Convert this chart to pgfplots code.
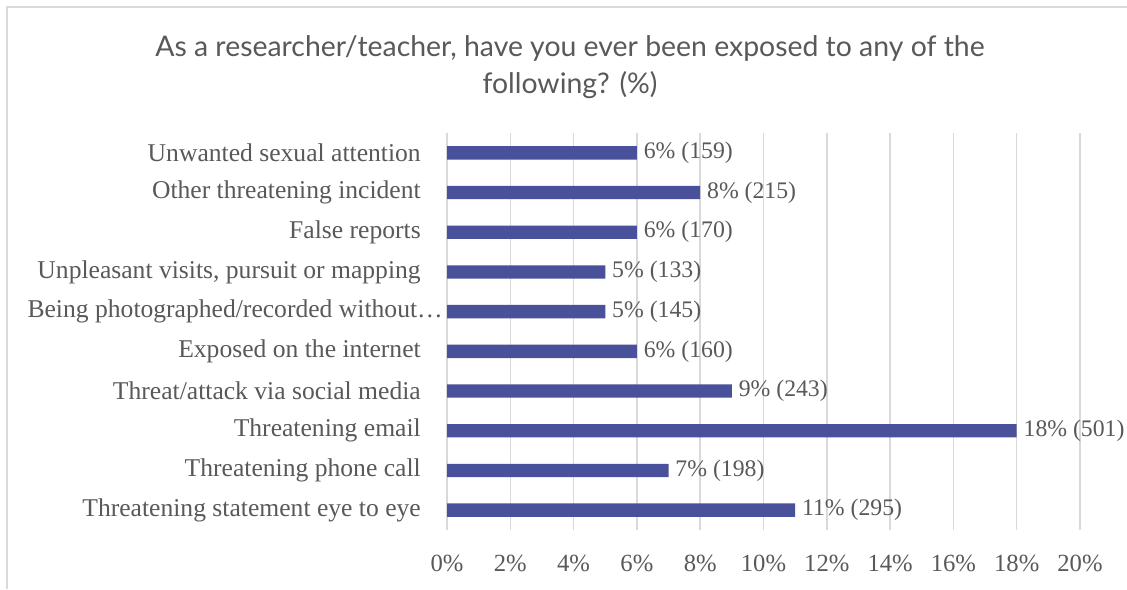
\documentclass[border=0pt]{standalone}
\usepackage{fontspec}
\setmainfont{Liberation Serif}
\newfontfamily\titlefont{Lato}
\usepackage{pgfplots}
\pgfplotsset{compat=1.18}
\usepackage{pgfplotstable}
\definecolor{barc}{HTML}{4A519B}
\definecolor{txt}{HTML}{595959}
\definecolor{gridc}{HTML}{D9D9D9}

\pgfplotstableread[col sep=comma]{
y,val,lab
0,11,11\% (295)
1,7,7\% (198)
2,18,18\% (501)
3,9,9\% (243)
4,6,6\% (160)
5,5,5\% (145)
6,5,5\% (133)
7,6,6\% (170)
8,8,8\% (215)
9,6,6\% (159)
}\datatable

\begin{document}
\begin{tikzpicture}
\useasboundingbox (0,0) rectangle (845.25pt,441.75pt);
\fill[white] (0,0) rectangle (845.25pt,441.75pt);
\draw[gridc, line width=1.5pt] (5.6pt,0) -- (5.6pt,436.5pt) -- (845.25pt,436.5pt);
\node[font=\titlefont\fontsize{21.3}{24}\selectfont, text=txt, anchor=base] at (427.5pt,399pt) {As a researcher/teacher, have you ever been exposed to any of the};
\node[font=\titlefont\fontsize{21.3}{24}\selectfont, text=txt, anchor=base] at (427.5pt,371.25pt) {following? (\%)};
\begin{axis}[
  at={(335.25pt,44.25pt)}, anchor=south west,
  scale only axis, width=474.75pt, height=297.75pt,
  xbar, bar width=10pt,
  xmin=0, xmax=20, ymin=-0.5, ymax=9.5,
  xtick={0,2,...,20},
  xticklabel={\pgfmathprintnumber{\tick}\%},
  /pgf/number format/assume math mode=true,
  ytick={0,...,9},
  yticklabels={Threatening statement eye to eye, Threatening phone call, Threatening email, Threat/attack via social media, Exposed on the internet, Being photographed/recorded without…\kern-16.5pt, {Unpleasant visits, pursuit or mapping}, False reports, Other threatening incident, Unwanted sexual attention},
  xmajorgrids, grid style={gridc, line width=1.1pt},
  axis line style={draw=none},
  major tick length=0pt,
  tick label style={font=\fontsize{18.5}{20}\selectfont, text=txt},
  yticklabel style={anchor=east, inner sep=0pt, xshift=-19.5pt, font=\fontsize{19.2}{21}\selectfont},
  xticklabel style={anchor=north, inner sep=0pt, yshift=-18.5pt},
  point meta=explicit symbolic,
  nodes near coords,
  nodes near coords style={anchor=west, inner sep=0pt, xshift=5pt, font=\fontsize{17.8}{20}\selectfont, text=txt},
  clip=false,
]
\addplot[fill=barc, draw=none] table[x=val, y=y, meta=lab] {\datatable};
\end{axis}
\end{tikzpicture}
\end{document}
